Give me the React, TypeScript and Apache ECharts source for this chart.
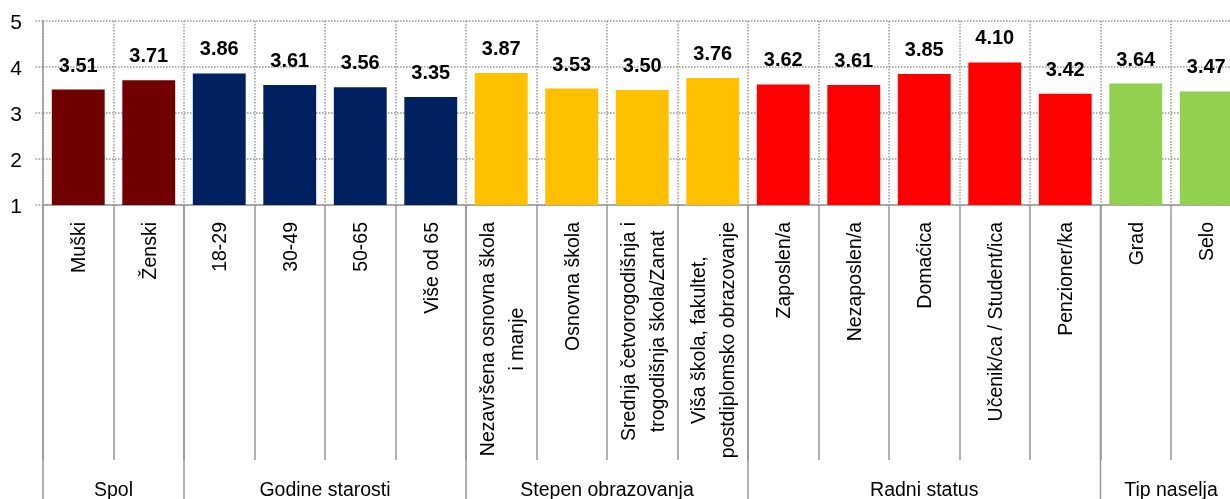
import React, { useEffect, useRef } from "react";
import * as echarts from "echarts";

const categories = [
  "Muški",
  "Ženski",
  "18-29",
  "30-49",
  "50-65",
  "Više od 65",
  "Nezavršena osnovna škola\ni manje",
  "Osnovna škola",
  "Srednja četvorogodišnja i\ntrogodišnja škola/Zanat",
  "Viša škola, fakultet,\npostdiplomsko obrazovanje",
  "Zaposlen/a",
  "Nezaposlen/a",
  "Domaćica",
  "Učenik/ca / Student/ica",
  "Penzioner/ka",
  "Grad",
  "Selo",
];
const values = [3.51, 3.71, 3.86, 3.61, 3.56, 3.35, 3.87, 3.53, 3.5, 3.76, 3.62, 3.61, 3.85, 4.1, 3.42, 3.64, 3.47];
const groupNames = ["Spol", "Godine starosti", "Stepen obrazovanja", "Radni status", "Tip naselja"];
const groupSizes = [2, 4, 4, 5, 2];
const groupColors = ["#700000", "#002060", "#FFC000", "#FF0000", "#92D050"];
const yMin = 1;
const yMax = 5;
const yStep = 1;

const FONT = "'Liberation Sans', Arial, sans-serif";
const GRID = "#999999";

function colorFor(i: number): string {
  let acc = 0;
  for (let g = 0; g < groupSizes.length; g++) {
    acc += groupSizes[g];
    if (i < acc) return groupColors[g];
  }
  return groupColors[groupColors.length - 1];
}

export default function App() {
  const ref = useRef<HTMLDivElement>(null);
  useEffect(() => {
    if (!ref.current) return;
    const chart = echarts.init(ref.current, null, { renderer: "svg" });
    const dotted = { color: GRID, width: 1.5, type: [1.5, 1.5] as any };
    chart.setOption({
      animation: false,
      textStyle: { fontFamily: FONT },
      grid: { left: 43, top: 21, width: 1198.5, height: 184, containLabel: false, outerBoundsMode: "none" },
      xAxis: {
        type: "category",
        data: categories,
        axisLine: { show: true, lineStyle: { color: GRID, width: 1.5 } },
        axisTick: { show: true, interval: 0, length: 255, lineStyle: { color: GRID, width: 1.5 } },
        axisLabel: {
          interval: 0,
          rotate: 90,
          margin: 17,
          color: "#000",
          fontSize: 19.5,
          fontFamily: FONT,
          formatter: (v: string) => v.split("\n").map((s) => `{c|${s}}`).join("\n"),
          rich: { c: { align: "center", fontSize: 19.5, fontFamily: FONT, color: "#000", lineHeight: 29 } },
        },
        splitLine: { show: true, interval: 0, lineStyle: dotted },
      },
      yAxis: {
        type: "value",
        min: yMin,
        max: yMax,
        interval: yStep,
        axisLine: { show: true, lineStyle: { color: GRID, width: 1.5 } },
        axisTick: { show: true, length: 8, lineStyle: dotted },
        axisLabel: { margin: 21, color: "#000", fontSize: 21, fontFamily: FONT },
        splitLine: { show: true, lineStyle: dotted },
      },
      series: [
        {
          type: "bar",
          data: values.map((v, i) => ({ value: v, itemStyle: { color: colorFor(i) } })),
          barCategoryGap: "25%",
          label: {
            show: true,
            position: "top",
            distance: 15,
            formatter: (p: any) => Number(p.value).toFixed(2),
            fontWeight: "bold",
            fontSize: 20,
            fontFamily: FONT,
            color: "#000",
          },
        },
      ],
    });

    const c0 = chart.convertToPixel({ xAxisIndex: 0 }, 0) as number;
    const c1 = chart.convertToPixel({ xAxisIndex: 0 }, 1) as number;
    const catW = c1 - c0;
    const yBase = chart.convertToPixel({ yAxisIndex: 0 }, yMin) as number;
    const elements: any[] = [];
    let start = 0;
    groupSizes.forEach((n, gi) => {
      const x0 = (chart.convertToPixel({ xAxisIndex: 0 }, start) as number) - catW / 2;
      const x1 = (chart.convertToPixel({ xAxisIndex: 0 }, start + n - 1) as number) + catW / 2;
      elements.push({
        type: "line",
        shape: { x1: x0, y1: yBase, x2: x0, y2: 499 },
        style: { stroke: GRID, lineWidth: 1.5 },
      });
      elements.push({
        type: "text",
        x: (x0 + x1) / 2,
        y: 489,
        style: { text: groupNames[gi], fontSize: 19.5, fontFamily: FONT, fill: "#000", align: "center", verticalAlign: "middle" },
      });
      start += n;
    });
    chart.setOption({ graphic: elements });

    return () => chart.dispose();
  }, []);
  return <div ref={ref} style={{ position: "fixed", left: 0, top: 0, width: 1230, height: 499 }} />;
}
